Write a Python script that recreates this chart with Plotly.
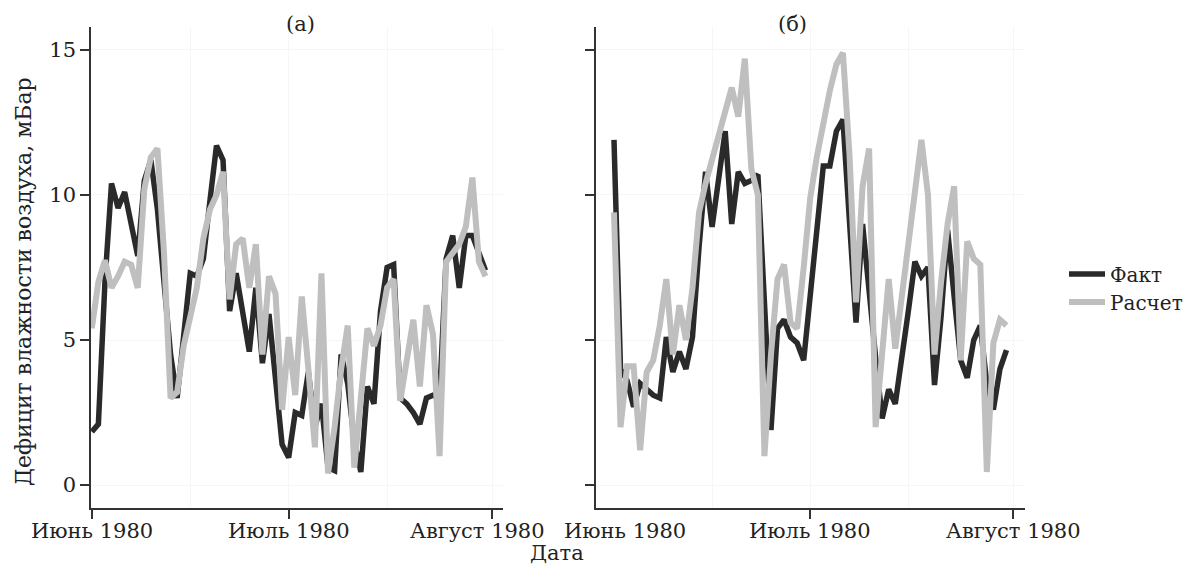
import pandas as pd
import plotly.graph_objects as go

# ---- data (daily values, June 1 – July 31, 1980) ----
dates = pd.date_range("1980-06-01", periods=61, freq="D")

fact_a = [1.84, 2.1, 7.0, 10.4, 9.55, 10.1, 9.0, 7.9, 10.5, 11.2,
          9.5, 7.0, 4.5, 3.0, 5.0, 7.3, 7.2, 7.8, 9.8, 11.7,
          11.2, 6.0, 7.3, 6.0, 4.6, 6.8, 4.2, 5.9, 3.8, 1.4,
          0.95, 2.5, 2.4, 3.9, 2.0, 2.8, 0.6, 0.5, 4.5, 3.5,
          1.5, 0.45, 3.4, 2.8, 6.0, 7.5, 7.6, 3.0, 2.8, 2.5,
          2.1, 3.0, 3.1, 3.0, 7.8, 8.6, 6.8, 8.6, 8.6, 8.0, 7.4]
calc_a = [5.4, 7.0, 7.75, 6.8, 7.2, 7.7, 7.6, 6.8, 10.2, 11.3,
          11.6, 8.0, 3.0, 3.2, 4.8, 5.8, 6.8, 8.5, 9.5, 10.0,
          10.8, 6.4, 8.3, 8.5, 6.8, 8.3, 4.5, 7.2, 6.6, 2.6,
          5.1, 3.1, 6.5, 4.0, 1.3, 7.3, 0.4, 2.0, 4.0, 5.5,
          0.6, 3.0, 5.4, 4.8, 5.5, 6.8, 7.1, 2.9, 4.3, 5.7,
          3.4, 6.2, 5.2, 1.0, 7.7, 8.0, 8.3, 8.9, 10.6, 7.7, 7.2]
fact_b = [11.9, 4.0, 3.6, 2.7, 3.5, 3.3, 3.1, 3.0, 5.1, 3.9,
          4.6, 4.0, 5.1, 8.2, 10.8, 8.9, 10.6, 12.2, 9.0, 10.8,
          10.4, 10.5, 10.7, 6.0, 1.9, 5.4, 5.7, 5.1, 4.9, 4.3,
          6.5, 8.5, 11.0, 11.0, 12.2, 12.6, 9.0, 5.6, 9.0, 6.5,
          4.4, 2.3, 3.3, 2.8, 4.3, 6.0, 7.7, 7.2, 7.5, 3.45,
          5.8, 8.8, 6.5, 4.3, 3.7, 5.0, 5.5, 3.5, 2.6, 4.0, 4.65]
calc_b = [9.4, 2.0, 4.1, 4.1, 1.2, 3.9, 4.3, 5.5, 7.1, 4.5,
          6.2, 5.0, 6.8, 9.4, 10.4, 11.2, 12.0, 12.9, 13.7, 12.7,
          14.7, 10.9, 10.0, 1.0, 4.5, 7.1, 7.6, 5.6, 5.4, 7.5,
          9.9, 11.3, 12.6, 13.6, 14.5, 14.9, 11.4, 6.3, 10.3, 11.6,
          2.0, 4.5, 7.1, 4.7, 6.5, 8.5, 10.2, 11.9, 10.0, 4.5,
          7.0, 9.0, 10.3, 4.3, 8.4, 7.8, 7.6, 0.45, 4.9, 5.7, 5.5]

series_names = ["Факт", "Расчет"]
month_ticks = ["1980-06-01", "1980-07-01", "1980-08-01"]
month_labels = ["Июнь 1980", "Июль 1980", "Август 1980"]
y_ticks = [0, 5, 10, 15]
panel_titles = ["(а)", "(б)"]
y_title = "Дефицит влажности воздуха, мБар"
x_title = "Дата"

# ---- style ----
W, H = 1184, 564          # page body has an 8px margin
OFF = 8
def sx(px):
    return (px - OFF) / W
def sy(py):
    return 1 - (py - OFF) / H

FONT = "DejaVu Serif"
FS = 21
DARK = "#2a2a2a"
LIGHT = "#bfbfbf"
AX = "#333333"
GRID = "#f6f6f6"
TXT = "#222222"

fig = go.Figure()
fig.add_trace(go.Scatter(x=dates, y=fact_a, mode="lines", name=series_names[0],
                         line=dict(color=DARK, width=5.5), xaxis="x", yaxis="y",
                         legend="legend"))
fig.add_trace(go.Scatter(x=dates, y=calc_a, mode="lines", name=series_names[1],
                         line=dict(color=LIGHT, width=6), xaxis="x", yaxis="y",
                         legend="legend2"))
fig.add_trace(go.Scatter(x=dates, y=fact_b, mode="lines", name=series_names[0],
                         line=dict(color=DARK, width=5.5), xaxis="x2", yaxis="y2",
                         showlegend=False))
fig.add_trace(go.Scatter(x=dates, y=calc_b, mode="lines", name=series_names[1],
                         line=dict(color=LIGHT, width=6), xaxis="x2", yaxis="y2",
                         showlegend=False))

ydom = [sy(508), sy(27)]
yrange = [-0.79, 15.79]
common_x = dict(type="date", automargin=False, showline=True, linecolor=AX, linewidth=1.5,
                ticks="outside", ticklen=9, tickwidth=1.5, tickcolor=AX,
                showticklabels=False,
                showgrid=True, gridcolor=GRID, gridwidth=1, zeroline=False,
                minor=dict(tickvals=["1980-06-16", "1980-07-16"], showgrid=True,
                           gridcolor=GRID, ticks=""))
common_y = dict(range=yrange, domain=ydom, automargin=False, showline=True,
                linecolor=AX, linewidth=1.5,
                ticks="outside", ticklen=9, tickwidth=1.5, tickcolor=AX,
                tickvals=y_ticks, showgrid=True, gridcolor=GRID, zeroline=False,
                tickfont=dict(family=FONT, size=FS, color=TXT))

legend_common = dict(xanchor="left", yanchor="middle", itemwidth=36,
                     font=dict(family=FONT, size=20, color=TXT),
                     bgcolor="rgba(0,0,0,0)")

fig.update_layout(
    template="none",
    width=W, height=H,
    margin=dict(l=0, r=0, t=0, b=0, autoexpand=False),
    paper_bgcolor="white", plot_bgcolor="white",
    font=dict(family=FONT, size=FS, color=TXT),
    xaxis=dict(common_x, domain=[sx(91), sx(503)], anchor="y",
               range=["1980-05-31 21:00", "1980-08-02 16:00"],
               tickvals=month_ticks),
    yaxis=dict(common_y, anchor="x"),
    xaxis2=dict(common_x, domain=[sx(596), sx(1025)], anchor="y2",
                range=["1980-05-29 06:00", "1980-08-02 20:00"],
                tickvals=month_ticks[1:]),
    yaxis2=dict(common_y, anchor="x2", showticklabels=False),
    showlegend=True,
    legend=dict(legend_common, x=sx(1064), y=sy(274)),
    legend2=dict(legend_common, x=sx(1064), y=sy(302)),
)

def label(text, x, y, size=FS, **kw):
    d = dict(text=text, x=x, y=y, xref="paper", yref="paper", showarrow=False,
             xanchor="center", yanchor="middle", font=dict(family=FONT, size=size, color=TXT))
    d.update(kw)
    return d

LY = sy(531)
annotations = [
    label(panel_titles[0], sx(300), sy(24)),
    label(panel_titles[1], sx(792), sy(24)),
    label(y_title, sx(23), sy(282), size=22, textangle=-90),
    label(x_title, sx(557), sy(553)),
    # month tick labels placed on the date axes
    label(month_labels[0], month_ticks[0], LY, xref="x"),
    label(month_labels[1], month_ticks[1], LY, xref="x"),
    label(month_labels[2], month_ticks[2], LY, xref="x", xshift=-15),
    label(month_labels[0], month_ticks[0], LY, xref="x2", xshift=11),
    label(month_labels[1], month_ticks[1], LY, xref="x2"),
    label(month_labels[2], month_ticks[2], LY, xref="x2"),
]
fig.update_layout(annotations=annotations)

fig.write_html("out.html")
